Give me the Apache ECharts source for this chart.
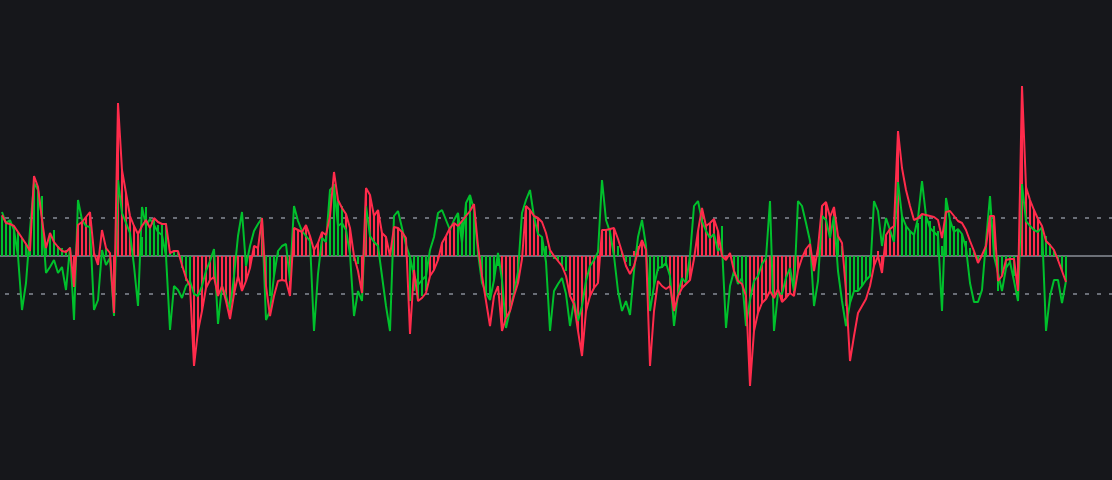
<!DOCTYPE html>
<html>
<head>
<meta charset="utf-8">
<script src="https://cdn.jsdelivr.net/npm/echarts@6/dist/echarts.min.js"></script>
<style>
html,body{margin:0;padding:0;background:#16171b;}
#chart{width:1112px;height:480px;}
</style>
</head>
<body>
<div id="chart"></div>
<script>
// Fast line (green)
const greenLine = [
44,33,36,26,0,-54,-27,26,73,66,
39,-17,-11,-4,-17,-11,-34,9,-64,56,
36,30,29,-54,-44,6,-9,-2,-60,76,
43,33,23,-10,-50,49,30,37,31,24,
21,0,-74,-30,-34,-42,-30,-25,-38,-40,
-30,-15,-5,7,-68,-30,-40,-54,-20,20,
44,-10,10,25,32,38,-64,-55,-20,5,
10,12,-25,50,35,25,20,15,-75,-18,
18,14,66,70,30,33,26,2,-60,-35,
-45,50,20,14,10,-20,-50,-75,40,45,
28,11,-1,-20,-29,-24,-20,6,19,43,
46,36,26,36,43,13,53,61,46,3,
-27,-37,-44,-24,3,-24,-72,-54,-37,-16,
43,56,66,39,22,19,-6,-75,-35,-28,
-22,-38,-70,-45,-65,-50,-25,-10,-4,4,
76,36,24,0,-35,-55,-45,-59,-15,19,
36,10,-55,-30,-12,-11,-7,-20,-70,-38,
-22,-27,0,50,55,35,25,18,22,5,
10,-72,-30,-15,-28,-22,-70,-44,-25,-20,
-8,-2,55,-75,-37,-38,-22,-12,-35,55,
50,33,15,-50,-25,40,36,18,40,-15,
-45,-70,-47,-35,-35,-30,-24,-20,55,45,
10,38,26,14,74,40,30,25,21,38,
75,40,28,24,20,-55,58,36,24,27,
22,8,-27,-46,-46,-34,15,60,0,-17,
-35,-12,-6,-25,-45,72,35,30,26,24,
29,-75,-40,-24,-24,-47,-25
];
// Slow line (red)
const redLine = [
41,33,32,30,24,18,12,5,80,69,
36,8,23,14,9,5,4,8,-31,31,
34,39,44,3,-9,26,8,3,-57,153,
86,63,40,30,22,30,36,28,38,34,
32,32,3,5,5,-9,-22,-30,-110,-75,
-55,-32,-24,-21,-40,-30,-45,-63,-38,-20,
-35,-25,-12,10,8,38,-30,-60,-40,-25,
-24,-25,-40,28,26,24,31,20,6,13,
24,21,40,84,56,48,42,28,0,-15,
-37,68,61,40,46,23,19,0,29,28,
24,18,-78,-14,-45,-42,-37,-20,-14,-4,
13,20,28,33,30,35,40,45,52,10,
-20,-45,-70,-40,-30,-75,-62,-55,-40,-27,
-3,50,46,40,38,34,23,6,0,-5,
-10,-20,-40,-48,-75,-100,-55,-40,-32,-27,
26,26,27,28,17,4,-10,-18,-10,5,
16,6,-110,-55,-25,-30,-33,-30,-55,-40,
-32,-28,-24,-3,25,48,30,33,37,25,
0,-4,3,-15,-25,-28,-40,-130,-75,-57,
-47,-43,-35,-42,-33,-46,-42,-37,-40,-14,
-2,7,12,-15,8,50,54,39,49,20,
13,-35,-105,-80,-57,-50,-43,-30,-10,0,
-17,21,27,30,125,88,66,50,36,38,
42,41,40,39,36,18,44,45,40,35,
33,26,15,5,-7,1,10,40,40,-25,
-20,-4,-3,-3,-35,170,69,56,46,37,
30,15,11,6,-4,-15,-26
];
// Histogram values
const histValues = [
40,35,36,30,24,18,12,5,76,66,
60,12,23,26,10,8,6,8,-31,31,
34,39,44,3,-9,6,8,3,-57,153,
86,63,40,30,22,19,49,29,38,31,
33,33,5,5,5,-12,-25,-35,-110,-75,
-55,-32,-24,-21,-40,-30,-45,-63,-38,-20,
-35,-25,-12,10,8,38,-30,-40,-20,5,
-24,-25,-40,28,26,24,31,20,6,13,
24,21,62,72,55,50,42,28,-5,-8,
-37,68,61,40,46,23,19,0,29,28,
24,18,-45,-35,-45,-40,-35,-20,-14,-4,
13,20,28,33,40,35,53,61,46,10,
-27,-37,-44,-24,-10,-75,-62,-55,-40,-27,
-3,50,46,40,38,19,10,5,-3,-5,
-10,-15,-40,-48,-75,-100,-55,-40,-32,-27,
26,26,27,28,10,4,-6,-10,5,10,
16,8,-40,-30,-15,-12,-10,-30,-55,-40,
-32,-28,-24,-3,25,48,30,33,37,25,
30,-4,3,-20,-28,-25,-65,-130,-75,-57,
-47,-43,-35,-42,-33,-46,-42,-37,-40,-14,
-2,7,12,-15,8,50,54,39,49,20,
10,-50,-47,-35,-35,-30,-24,-20,-10,5,
-17,21,27,30,125,40,30,25,21,33,
42,40,35,30,25,10,50,36,30,27,
22,15,8,4,-7,1,10,40,40,-35,
-20,-12,-8,-20,-35,170,69,56,46,37,
30,20,12,6,-5,-15,-25
];
// Histogram colour per bar, as runs of [colour, count]
const histColorRuns = [
['g',18],['r',7],['g',3],['r',7],['g',13],['r',18],['g',4],['r',12],['g',4],['r',2],
['g',2],['r',12],['g',5],['r',7],['g',5],['r',1],['g',5],['r',10],['g',7],['r',12],
['g',4],['r',4],['g',5],['r',13],['g',1],['r',2],['g',4],['r',22],['g',9],['r',7],
['g',22],['r',2],['g',5],['r',6],['g',7]
];
const thresholds = [38, -38];
const axisCategoryCount = 278;

const GREEN = '#00c02c';
const RED = '#ff2b4b';

const categories = [];
for (let i = 1; i <= axisCategoryCount; i++) categories.push(String(i));

const histColors = [];
histColorRuns.forEach(([c, n]) => { for (let k = 0; k < n; k++) histColors.push(c); });

const barData = histValues.map((v, i) => ({
  value: v,
  itemStyle: { color: histColors[i] === 'g' ? GREEN : RED }
}));

const chart = echarts.init(document.getElementById('chart'), null, { renderer: 'canvas' });
chart.setOption({
  backgroundColor: '#16171b',
  animation: false,
  grid: { left: 0, right: 0, top: 0, bottom: 0, containLabel: false },
  xAxis: {
    type: 'category',
    data: categories,
    boundaryGap: true,
    show: false
  },
  yAxis: {
    type: 'value',
    min: -224,
    max: 256,
    show: false,
    splitLine: { show: false }
  },
  series: [
    {
      name: 'Histogram',
      type: 'bar',
      data: barData,
      barWidth: 2,
      silent: true,
      z: 1,
      markLine: {
        silent: true,
        symbol: ['none', 'none'],
        label: { show: false },
        z: 0,
        data: [
          { yAxis: 0, lineStyle: { color: '#6c7078', width: 2, type: 'solid' } },
          { yAxis: thresholds[0], lineStyle: { color: '#6a6e77', width: 2, type: [4, 8], dashOffset: 7 } },
          { yAxis: thresholds[1], lineStyle: { color: '#6a6e77', width: 2, type: [4, 8], dashOffset: 7 } }
        ]
      }
    },
    {
      name: 'Fast',
      type: 'line',
      data: greenLine,
      symbol: 'none',
      smooth: false,
      silent: true,
      z: 3,
      lineStyle: { color: GREEN, width: 2 }
    },
    {
      name: 'Slow',
      type: 'line',
      data: redLine,
      symbol: 'none',
      smooth: false,
      silent: true,
      z: 4,
      lineStyle: { color: RED, width: 2 }
    }
  ]
});
</script>
</body>
</html>
